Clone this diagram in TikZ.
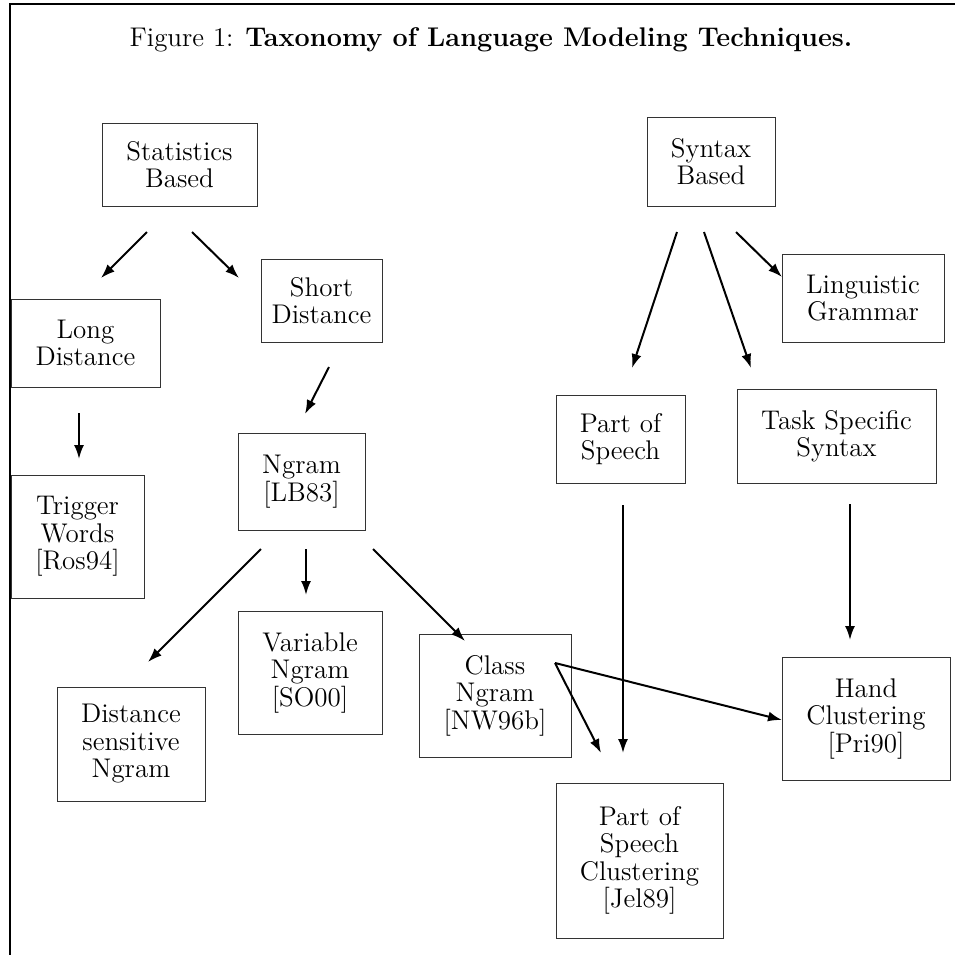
\documentclass[tikz,border=0pt]{standalone}
\usepackage{fontspec}
\usepackage{tikz}
\usetikzlibrary{arrows.meta}
\newcommand{\figfont}{\fontsize{13.5}{13.75}\selectfont}

\begin{document}
\begin{tikzpicture}[x=0.5pt,y=-0.5pt,
    box/.style={draw=black!80,line width=0.5pt,inner sep=0pt,align=center,font=\figfont},
    arr/.style={-{Latex[length=7pt,width=5pt]},line width=1pt}]
    \useasboundingbox (0,0) rectangle (955,955);
    \draw[line width=1.1pt] (955,4) -- (10,4) -- (10,955);
    \node[anchor=base,font=\figfont] (T) at (491,46)
     {Figure 1: \textbf{Taxonomy of Language Modeling Techniques.}};
    \foreach \name/\cx/\cy/\w/\h/\txt in {
     stat/179.5/164.5/155/83/{Statistics\\Based},
     synt/711/161.5/128/89/{Syntax\\Based},
     long/85.5/343/149/88/{Long\\Distance},
     short/321.5/300.5/121/83/{Short\\Distance},
     ling/863/298/162/88/{Linguistic\\Grammar},
     pos/620.5/439/129/88/{Part of\\Speech},
     task/836.5/436/199/94/{Task Specific\\Syntax},
     ngram/301.5/481.5/127/97/{Ngram\\{[LB83]}},
     trig/77.5/536.5/133/123/{Trigger\\Words\\{[Ros94]}},
     var/310/672.5/144/123/{Variable\\Ngram\\{[SO00]}},
     class/495/695.5/152/123/{Class\\Ngram\\{[NW96b]}},
     dist/131/744/148/114/{Distance\\sensitive\\Ngram},
     hand/866/718.5/168/123/{Hand\\Clustering\\{[Pri90]}},
     posc/639.5/860.5/167/155/{Part of\\Speech\\Clustering\\{[Jel89]}}} {
     \node[box,minimum width=\w*0.5pt,minimum height=\h*0.5pt] (\name) at (\cx,\cy) {\txt};
    }
    \foreach \sx/\sy/\ex/\ey [count=\i] in {
     147/232/101/278, 192/232/239/278, 329/367/305/414, 79/413/79/459,
     677/232/632/368, 704/232/751/368, 736/232/782/277,
     261/549/148/662, 306/549/306/595, 373/549/465/641,
     555/663/601/753, 623/505/623/753, 555/663/782/720, 850/504/850/640} {
     \coordinate (s\i) at (\sx,\sy);
     \coordinate (e\i) at (\ex,\ey);
     \draw[arr] (s\i) -- (e\i);
    }
\end{tikzpicture}
\end{document}
